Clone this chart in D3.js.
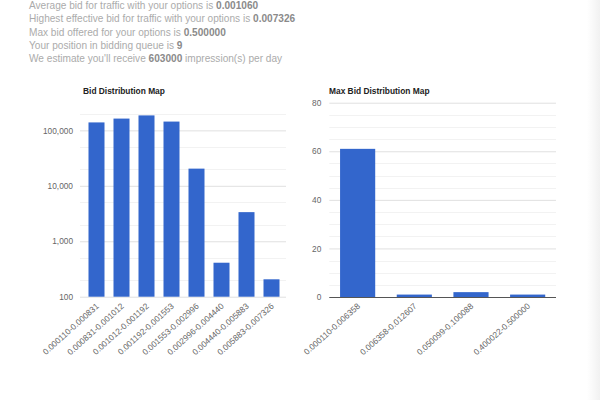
<!DOCTYPE html>
<html><head><meta charset="utf-8">
<script src="https://cdn.jsdelivr.net/npm/d3@7/dist/d3.min.js"></script>
<style>
body{margin:0;background:#fff;}
svg{display:block;font-family:Arial,"Liberation Sans",sans-serif;}
</style></head><body>
<svg id="c" width="600" height="400"></svg>
<script>
const infoLines = [
  ["Average bid for traffic with your options is ", "0.001060", ""],
  ["Highest effective bid for traffic with your options is ", "0.007326", ""],
  ["Max bid offered for your options is ", "0.500000", ""],
  ["Your position in bidding queue is ", "9", ""],
  ["We estimate you'll receive ", "603000", " impression(s) per day"]
];
const bidCategories = ["0.000110-0.000831","0.000831-0.001012","0.001012-0.001192","0.001192-0.001553","0.001553-0.002996","0.002996-0.004440","0.004440-0.005883","0.005883-0.007326"];
const bidValues = [139000,163000,186000,144000,20400,410,3350,206];
const bidTicks = [100,1000,10000,100000];
const maxCategories = ["0.000110-0.006358","0.006358-0.012607","0.050099-0.100088","0.400022-0.500000"];
const maxValues = [61,1,2,1];
const maxTicks = [0,20,40,60,80];

const svg = d3.select("#c");
const defs = svg.append("defs");
const g1 = defs.append("linearGradient").attr("id","shR").attr("x1","0").attr("x2","1");
g1.append("stop").attr("offset","0").attr("stop-color","#fff");
g1.append("stop").attr("offset","1").attr("stop-color","#f1f1f1");
svg.append("rect").attr("x",587).attr("y",0).attr("width",13).attr("height",400).attr("fill","url(#shR)");

// info text
const info = svg.append("g").attr("font-size",10.1).attr("fill","#ababab");
infoLines.forEach((l,i)=>{
  const t = info.append("text").attr("x",29).attr("y",9+i*13.3);
  t.append("tspan").text(l[0]);
  t.append("tspan").attr("font-weight","bold").attr("fill","#8a8a8a").text(l[1]);
  if(l[2]) t.append("tspan").text(l[2]);
});

const BLUE = "#3366cc";
const FF = "Arial,'Liberation Sans',sans-serif";

// Left chart (log)
{
  const x = d3.scaleBand().domain(bidCategories).range([84,284]).paddingInner(0.36).paddingOuter(0.18);
  const y = d3.scaleLog().domain([100,1000000]).range([296.7,74.9]);
  const yTop = 296.7 - 55.4*3.45;
  const g = svg.append("g");
  g.append("text").attr("x",83).attr("y",94).attr("font-size",8.4).attr("font-weight","bold").attr("fill","#222").text("Bid Distribution Map");
  const minor = [];
  bidTicks.forEach(t=>{ if(t<100000){ minor.push(t*2, t*5);} else { minor.push(t*2); } });
  g.selectAll(".mn").data(minor.filter(v=>y(v)>=yTop)).join("line")
    .attr("x1",80).attr("x2",286).attr("y1",d=>Math.round(y(d))+0.5).attr("y2",d=>Math.round(y(d))+0.5)
    .attr("stroke","#f2f2f2");
  const ax = d3.axisLeft(y).tickValues(bidTicks).tickFormat(d3.format(",")).tickSize(-206).tickPadding(7);
  const ag = g.append("g").attr("transform","translate(80,0)").call(ax);
  ag.select(".domain").remove();
  ag.selectAll("line").attr("stroke","#e0e0e0");
  ag.selectAll("text").attr("font-size",8.3).attr("fill","#666").attr("font-family",FF);
  g.selectAll(".bar").data(bidValues).join("rect")
    .attr("x",(d,i)=>x(bidCategories[i])).attr("width",x.bandwidth())
    .attr("y",d=>y(d)).attr("height",d=>y(100)-y(d)).attr("fill",BLUE);
  g.selectAll(".xl").data(bidCategories).join("text")
    .attr("transform",d=>`translate(${x(d)+x.bandwidth()/2+3},${307}) rotate(-42)`)
    .attr("text-anchor","end").attr("font-size",8.4).attr("fill","#666").text(d=>d);
}

// Right chart (linear)
{
  const x = d3.scaleBand().domain(maxCategories).range([329.3,556]).paddingInner(0.38).paddingOuter(0.19);
  const y = d3.scaleLinear().domain([0,80]).range([297,102.7]);
  const g = svg.append("g");
  g.append("text").attr("x",329).attr("y",94).attr("font-size",8.4).attr("font-weight","bold").attr("fill","#222").text("Max Bid Distribution Map");
  const minor = d3.range(5,80,5).filter(v=>v%20!==0);
  g.selectAll(".mn").data(minor).join("line")
    .attr("x1",329.3).attr("x2",556).attr("y1",d=>Math.round(y(d))+0.5).attr("y2",d=>Math.round(y(d))+0.5)
    .attr("stroke","#f2f2f2");
  const ax = d3.axisLeft(y).tickValues(maxTicks).tickSize(-226.7).tickPadding(8);
  const ag = g.append("g").attr("transform","translate(329.3,0)").call(ax);
  ag.select(".domain").remove();
  ag.selectAll("line").attr("stroke","#e0e0e0");
  ag.selectAll("text").attr("font-size",8.3).attr("fill","#666").attr("font-family",FF);
  g.selectAll(".bar").data(maxValues).join("rect")
    .attr("x",(d,i)=>x(maxCategories[i])).attr("width",x.bandwidth())
    .attr("y",d=>y(d)).attr("height",d=>y(0)-y(d)).attr("fill",BLUE);
  g.append("line").attr("x1",329.3).attr("x2",556).attr("y1",297.5).attr("y2",297.5).attr("stroke","#555");
  g.selectAll(".xl").data(maxCategories).join("text")
    .attr("transform",d=>`translate(${x(d)+x.bandwidth()/2+3},${307}) rotate(-42)`)
    .attr("text-anchor","end").attr("font-size",8.4).attr("fill","#666").text(d=>d);
}
</script>
</body></html>
